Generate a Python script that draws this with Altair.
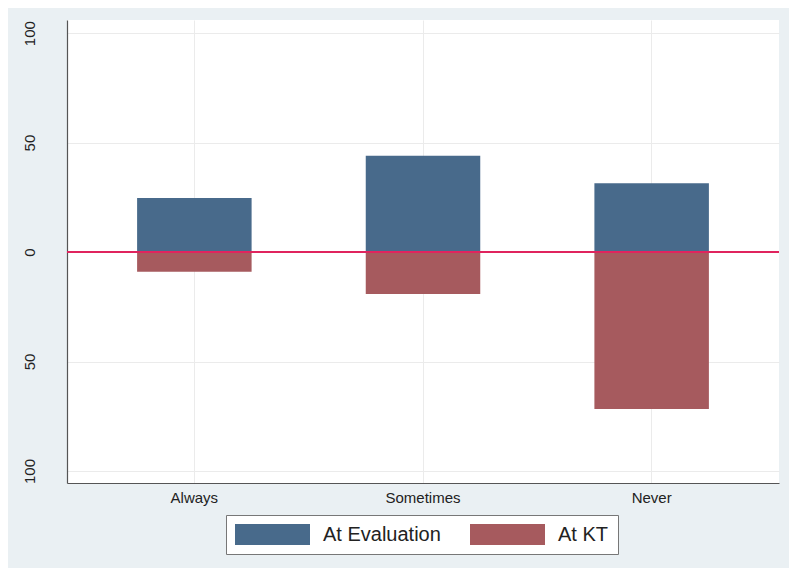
import altair as alt
import pandas as pd

categories = ["Always", "Sometimes", "Never"]
at_evaluation = [24.7, 44.0, 31.4]
at_kt = [-9.0, -19.2, -71.7]
series_names = ["At Evaluation", "At KT"]
series_colors = ["#486A8B", "#A65A5E"]
y_ticks = [-100, -50, 0, 50, 100]

rows = []
for c, e, k in zip(categories, at_evaluation, at_kt):
    rows.append({"cat": c, "series": series_names[0], "value": e})
    rows.append({"cat": c, "series": series_names[1], "value": k})
df = pd.DataFrame(rows)

W, H = 712, 463
FONT = "Liberation Sans"

x = alt.X(
    "cat:N", sort=categories, title=None,
    scale=alt.Scale(paddingInner=0.5, paddingOuter=0.307),
    axis=alt.Axis(labelAngle=0, labelFont=FONT, labelFontSize=15, labelColor="#222222",
                  labelPadding=7, ticks=False, domainColor="#555555", domainWidth=1.2,
                  grid=True, gridColor="#EBEBEB", bandPosition=0.5),
)
y = alt.Y(
    "value:Q", title=None,
    scale=alt.Scale(domain=[-105.5, 106], nice=False, zero=False),
    axis=alt.Axis(values=y_ticks, labelExpr="abs(datum.value)", labelAngle=270,
                  labelAlign="center", labelBaseline="bottom", labelFont=FONT,
                  labelFontSize=15, labelColor="#222222", labelPadding=30, ticks=False,
                  domainColor="#555555", domainWidth=1.2, grid=True, gridColor="#EBEBEB"),
)

bars = alt.Chart(df).mark_bar(size=114.5).encode(
    x=x,
    y=y,
    color=alt.Color(
        "series:N",
        scale=alt.Scale(domain=series_names, range=series_colors),
        legend=alt.Legend(
            title=None, orient="none", legendX=159, legendY=495, direction="horizontal",
            symbolType="M-1,-0.28H1V0.28H-1Z", symbolSize=5625, symbolStrokeWidth=0,
            symbolOpacity=1, clipHeight=21, labelFont=FONT, labelFontSize=20,
            labelColor="#222222", labelOffset=13, columnPadding=29, padding=9,
            fillColor="white", strokeColor="#777777", cornerRadius=0,
        ),
    ),
)

zero_line = alt.Chart(df).mark_rule(color="#E0245E", strokeWidth=2).encode(y=alt.datum(0))

chart = alt.layer(bars, zero_line).properties(
    width=W, height=H, background="#EAF0F3",
    autosize=alt.AutoSizeParams(type="none"),
    padding={"left": 59, "top": 12, "right": 10, "bottom": 85},
).configure_view(stroke=None, fill="white")

chart.save("out.html", embed_options={"renderer": "svg", "actions": False})
